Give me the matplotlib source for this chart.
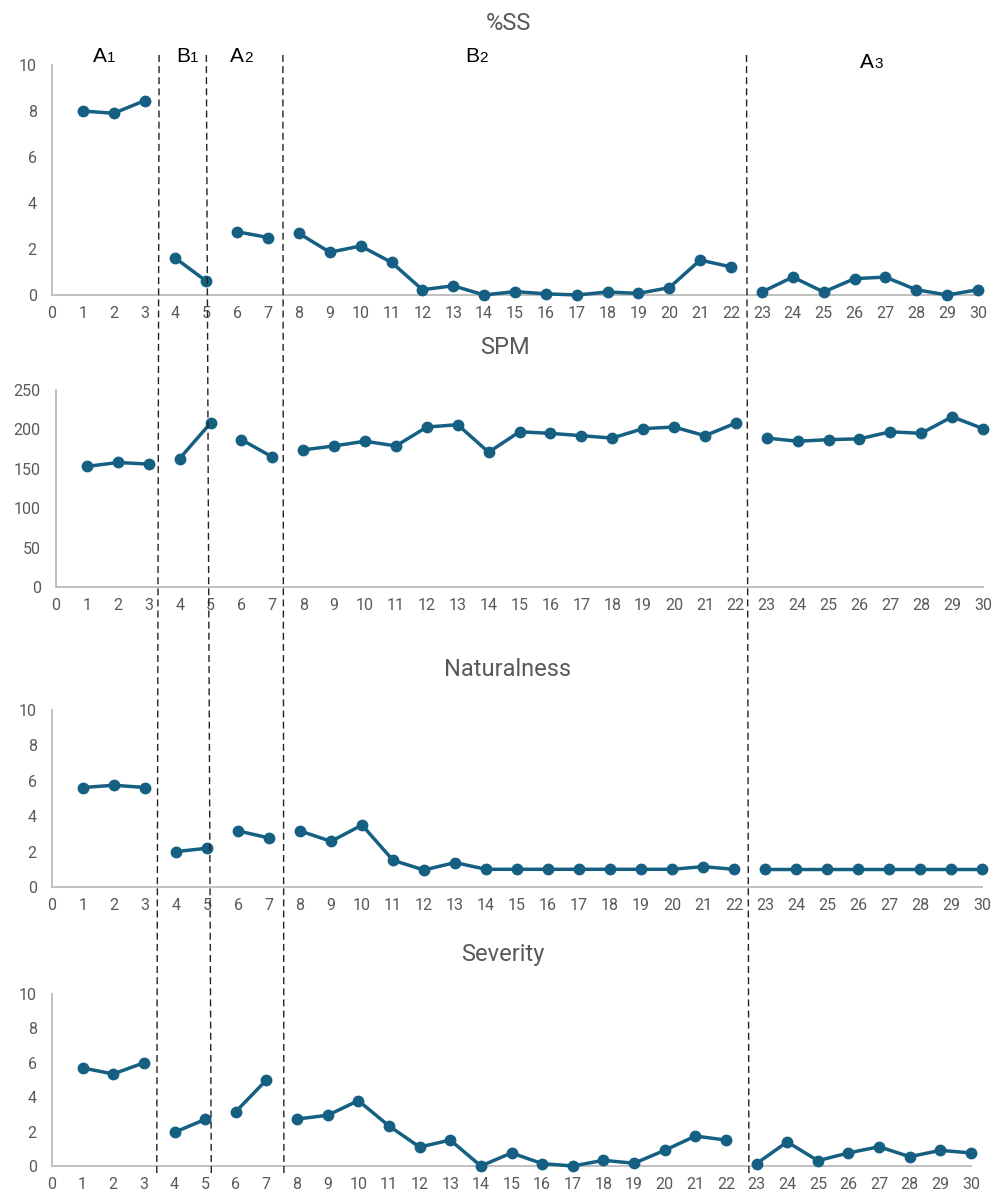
import numpy as np
import matplotlib
matplotlib.use("Agg")
import matplotlib.pyplot as plt
from matplotlib.lines import Line2D

W, H = 997, 1199
LINE_COLOR = "#156082"
TEXT_GRAY = "#595959"
SPINE_GRAY = "#c0c0c0"
FONT = ["Roboto", "DejaVu Sans"]

sessions = np.arange(1, 31)
# first and last session of each phase (A1, B1, A2, B2, A3)
phase_starts = [1, 4, 6, 8, 23]
phase_ends = [3, 5, 7, 22, 30]
phase_letters = ["A", "B", "A", "B", "A"]
phase_numbers = ["1", "1", "2", "2", "3"]

ss_pct = [8.0, 7.9, 8.45, 1.6, 0.6, 2.75, 2.5, 2.68, 1.86, 2.13, 1.42, 0.23, 0.4, 0.0, 0.15,
          0.05, 0.0, 0.13, 0.07, 0.32, 1.52, 1.22, 0.13, 0.78, 0.13, 0.71, 0.78, 0.23, 0.0, 0.23]
spm = [153, 158, 156, 163, 208, 187, 165, 174, 179, 185, 179, 203, 206, 171, 197,
       195, 192, 189, 201, 203, 192, 208, 189, 185, 187, 188, 197, 195, 216, 201]
naturalness = [5.62, 5.75, 5.62, 2.0, 2.19, 3.17, 2.77, 3.17, 2.58, 3.5, 1.51, 0.96, 1.38, 1.0, 1.0,
               1.0, 1.0, 1.0, 1.0, 1.0, 1.15, 1.0, 1.0, 1.0, 1.0, 1.0, 1.0, 1.0, 1.0, 1.0]
severity = [5.7, 5.35, 6.0, 1.96, 2.71, 3.16, 5.0, 2.73, 2.95, 3.8, 2.33, 1.1, 1.51, 0.0, 0.76,
            0.14, 0.0, 0.33, 0.16, 0.91, 1.74, 1.51, 0.14, 1.4, 0.31, 0.76, 1.12, 0.54, 0.91, 0.76]

titles = ["%SS", "SPM", "Naturalness", "Severity"]
series = [ss_pct, spm, naturalness, severity]
y_max = [10, 250, 10, 10]
y_step = [2, 50, 2, 2]

# panel boxes in pixels: left, right, top, bottom
boxes = [(52, 978, 65, 295), (56, 983, 390, 587), (52, 982, 710, 887), (52, 971, 994, 1166)]
title_pos = [(508, 24), (505, 348), (508, 669), (503, 954)]
# baseline point between letter and digit of each phase label
label_pos = [(107, 62), (190, 62), (244, 62), (479, 62), (874, 68)]

# phase-change lines, in session units of the top and bottom panels
breaks_top = [3.47, 5.0, 7.48, 22.5]
breaks_bottom = [3.42, 5.2, 7.57, 22.75]

fig = plt.figure(figsize=(W / 100, H / 100), dpi=100)

axes = []
for (left, right, top, bottom), values, ymax, step in zip(boxes, series, y_max, y_step):
    ax = fig.add_axes([left / W, 1 - bottom / H, (right - left) / W, (bottom - top) / H])
    values = np.asarray(values, dtype=float)
    for s, e in zip(phase_starts, phase_ends):
        idx = (sessions >= s) & (sessions <= e)
        ax.plot(sessions[idx], values[idx], color=LINE_COLOR, lw=2.5, marker="o",
                markersize=7.5, clip_on=False, zorder=3)
    ax.set_xlim(0, 30)
    ax.set_ylim(0, ymax)
    ax.set_xticks(range(0, 31))
    ax.set_yticks(range(0, ymax + 1, step))
    for side in ["top", "right"]:
        ax.spines[side].set_visible(False)
    for side in ["left", "bottom"]:
        ax.spines[side].set_color(SPINE_GRAY)
        ax.spines[side].set_linewidth(1.4)
    ax.tick_params(axis="x", length=0, pad=8, labelsize=11.5, labelcolor=TEXT_GRAY)
    ax.tick_params(axis="y", length=0, pad=11, labelsize=11.5, labelcolor=TEXT_GRAY)
    for lbl in ax.get_xticklabels() + ax.get_yticklabels():
        lbl.set_family(FONT)
    axes.append(ax)

for title, (x, y) in zip(titles, title_pos):
    fig.text(x / W, 1 - y / H, title, ha="center", va="center", fontsize=17,
             color=TEXT_GRAY, family=FONT)

label_font = ["Liberation Sans", "DejaVu Sans"]
for letter, number, (x, y) in zip(phase_letters, phase_numbers, label_pos):
    fig.text(x / W, 1 - y / H, letter, ha="right", va="baseline", fontsize=15,
             color="black", family=label_font)
    fig.text(x / W, 1 - y / H, number, ha="left", va="baseline", fontsize=11,
             color="black", family=label_font)

top_ax, bottom_ax = axes[0], axes[-1]
for xt, xb in zip(breaks_top, breaks_bottom):
    px_top = top_ax.transData.transform((xt, 0))[0]
    px_bottom = bottom_ax.transData.transform((xb, 0))[0]
    fig.add_artist(Line2D([px_top / W, px_bottom / W], [1 - 55 / H, 1 - 1174 / H],
                          transform=fig.transFigure, color="#222222", lw=1.0,
                          linestyle=(0, (5, 3)), zorder=5))

fig.savefig("out.png", dpi=100)
